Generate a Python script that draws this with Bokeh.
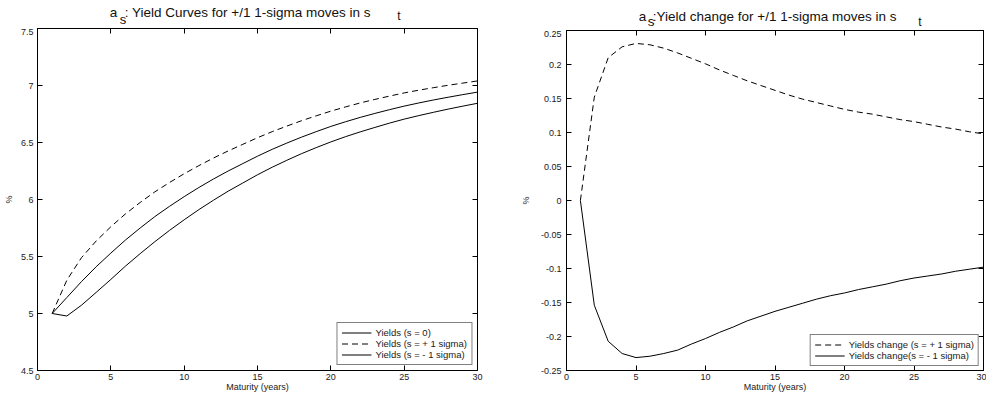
from bokeh.plotting import figure
from bokeh.layouts import row, column
from bokeh.models import FixedTicker, LinearAxis, Label, Legend, LegendItem, Range1d
from bokeh.embed import file_html
from bokeh.resources import INLINE

# ---------------- data ----------------
maturity = list(range(1, 31))

yields_s0 = [5.000, 5.140, 5.280, 5.410, 5.530, 5.645, 5.750, 5.850, 5.940, 6.025,
             6.105, 6.180, 6.250, 6.315, 6.380, 6.440, 6.495, 6.547, 6.595, 6.641,
             6.682, 6.720, 6.755, 6.788, 6.819, 6.847, 6.873, 6.897, 6.920, 6.942]
yields_up = [5.000, 5.292, 5.490, 5.636, 5.761, 5.874, 5.974, 6.067, 6.149, 6.226,
             6.297, 6.364, 6.426, 6.484, 6.542, 6.595, 6.644, 6.691, 6.734, 6.775,
             6.812, 6.847, 6.878, 6.907, 6.935, 6.959, 6.981, 7.002, 7.021, 7.040]
yields_dn = [5.000, 4.978, 5.073, 5.185, 5.299, 5.416, 5.525, 5.630, 5.729, 5.822,
             5.911, 5.994, 6.073, 6.145, 6.217, 6.283, 6.344, 6.402, 6.455, 6.505,
             6.551, 6.593, 6.632, 6.670, 6.705, 6.736, 6.765, 6.793, 6.819, 6.844]

change_up = [0.000, 0.152, 0.210, 0.226, 0.231, 0.229, 0.224, 0.217, 0.209, 0.201,
             0.192, 0.184, 0.176, 0.169, 0.162, 0.155, 0.149, 0.144, 0.139, 0.134,
             0.130, 0.127, 0.123, 0.119, 0.116, 0.112, 0.108, 0.105, 0.101, 0.098]
change_dn = [0.000, -0.154, -0.207, -0.225, -0.231, -0.229, -0.225, -0.220, -0.211, -0.203,
             -0.194, -0.186, -0.177, -0.170, -0.163, -0.157, -0.151, -0.145, -0.140, -0.136,
             -0.131, -0.127, -0.123, -0.118, -0.114, -0.111, -0.108, -0.104, -0.101, -0.098]

x_ticks = [0, 5, 10, 15, 20, 25, 30]
left_y_ticks = [4.5, 5, 5.5, 6, 6.5, 7, 7.5]
left_y_labels = ["4.5", "5", "5.5", "6", "6.5", "7", "7.5"]
right_y_ticks = [-0.25, -0.2, -0.15, -0.1, -0.05, 0, 0.05, 0.1, 0.15, 0.2, 0.25]
right_y_labels = ["-0.25", "-0.2", "-0.15", "-0.1", "-0.05", "0", "0.05", "0.1", "0.15", "0.2", "0.25"]

left_legend = ["Yields (s = 0)", "Yields (s = + 1 sigma)", "Yields (s = - 1 sigma)"]
right_legend = ["Yields change (s = + 1 sigma)", "Yields change(s = - 1 sigma)"]
left_title = ["a", "s", ": Yield Curves for +/1 1-sigma moves in s", "t"]
right_title = ["a", "s", ":Yield change for +/1 1-sigma moves in s", "t"]
x_label = "Maturity (years)"
y_label = "%"

FONT = "Liberation Sans"
TXT = "#1a1a1a"
TOTAL_H = 394


def make_fig(width, height, yr, yticks, ylabels, bl, br, bt, bb, ystand, ylabstand):
    p = figure(width=width, height=height, x_range=Range1d(0, 30), y_range=Range1d(*yr),
               output_backend="svg", toolbar_location=None, title=None,
               min_border_left=bl, min_border_right=br, min_border_top=bt, min_border_bottom=bb)
    p.background_fill_color = "white"
    p.border_fill_color = "white"
    p.outline_line_color = "black"
    p.outline_line_width = 1
    p.xgrid.visible = False
    p.ygrid.visible = False
    yoverrides = {t: l for t, l in zip(yticks, ylabels)}
    for ax in p.xaxis:
        ax.ticker = FixedTicker(ticks=x_ticks)
        ax.axis_label = x_label
        ax.major_label_standoff = 3
        ax.axis_label_standoff = -1
    for ax in p.yaxis:
        ax.ticker = FixedTicker(ticks=yticks)
        ax.major_label_overrides = yoverrides
        ax.axis_label = y_label
        ax.major_label_standoff = ystand
        ax.axis_label_standoff = ylabstand
    for ax in list(p.xaxis) + list(p.yaxis):
        ax.major_tick_in = 5
        ax.major_tick_out = 0
        ax.minor_tick_line_color = None
        ax.axis_line_color = "black"
        ax.major_tick_line_color = "black"
        ax.major_label_text_font = FONT
        ax.major_label_text_font_size = "9px"
        ax.major_label_text_color = TXT
        ax.major_label_text_line_height = 1.0
        ax.axis_label_text_font = FONT
        ax.axis_label_text_font_size = "9px"
        ax.axis_label_text_font_style = "normal"
        ax.axis_label_text_color = TXT
        ax.axis_label_text_line_height = 1.0
    # mirrored ticks on top and right (labels not drawn)
    top = LinearAxis(ticker=FixedTicker(ticks=x_ticks), major_tick_in=5, major_tick_out=0,
                     minor_tick_line_color=None, major_label_text_font_size="1px",
                     major_label_text_color=None, major_label_standoff=0,
                     axis_line_color="black")
    right = LinearAxis(ticker=FixedTicker(ticks=yticks), major_tick_in=5, major_tick_out=0,
                       minor_tick_line_color=None, major_label_text_font_size="1px",
                       major_label_text_color=None, major_label_standoff=0,
                       axis_line_color="black")
    p.add_layout(top, "above")
    p.add_layout(right, "right")
    return p


def make_band(width, height, bl, br, parts):
    # title band: x in the same units as the chart below, y in pixels from the band top
    t = figure(width=width, height=height, x_range=Range1d(0, 30), y_range=Range1d(height, 0),
               output_backend="svg", toolbar_location=None, title=None,
               x_axis_type=None, y_axis_type=None,
               min_border_left=bl, min_border_right=br, min_border_top=0, min_border_bottom=0)
    t.outline_line_color = None
    t.xgrid.visible = False
    t.ygrid.visible = False
    t.background_fill_color = "white"
    t.border_fill_color = "white"
    for txt, x, y, size in parts:
        t.add_layout(Label(x=x, y=y, text=txt, text_font=FONT, text_font_size=size,
                           text_color="#111111", text_baseline="alphabetic", text_align="left"))
    return t


def add_legend(p, labels, renderers, margin):
    leg = Legend(items=[LegendItem(label=l, renderers=[r]) for l, r in zip(labels, renderers)],
                 location="bottom_right", label_text_font=FONT, label_text_font_size="9.5px",
                 label_text_color=TXT, glyph_width=30, glyph_height=11, label_height=11,
                 spacing=0, padding=4, margin=margin, label_standoff=4,
                 border_line_color="black", border_line_width=1, background_fill_alpha=1)
    p.add_layout(leg)


# ---------------- left chart ----------------
BAND1 = 28
W1 = 517
t1 = make_band(W1, BAND1, 33, 40,
               [(left_title[0], 4.93, 12.3, "13.5px"), (left_title[1], 5.61, 19.0, "13px"),
                (left_title[2], 5.95, 12.3, "13.5px"), (left_title[3], 24.53, 15.5, "12px")])
p1 = make_fig(W1, TOTAL_H - BAND1, (4.5, 7.5), left_y_ticks, left_y_labels, 33, 40, 0, 23, 4, 4)
r_mid = p1.line(maturity, yields_s0, line_color="black", line_width=1)
r_up = p1.line(maturity, yields_up, line_color="black", line_width=1, line_dash="6 4")
r_dn = p1.line(maturity, yields_dn, line_color="black", line_width=1)
add_legend(p1, left_legend, [r_mid, r_up, r_dn], 5)

# ---------------- right chart ----------------
BAND2 = 30
W2 = 469
t2 = make_band(W2, BAND2, 45, 3,
               [(right_title[0], 5.20, 16.0, "13.5px"), (right_title[1], 5.84, 21.0, "13.5px"),
                (right_title[2], 6.20, 16.0, "13.5px"), (right_title[3], 25.30, 21.0, "12px")])
p2 = make_fig(W2, TOTAL_H - BAND2, (-0.25, 0.25), right_y_ticks, right_y_labels, 45, 3, 0, 21, 5, 7)
r_cu = p2.line(maturity, change_up, line_color="black", line_width=1, line_dash="6 4")
r_cd = p2.line(maturity, change_dn, line_color="black", line_width=1)
add_legend(p2, right_legend, [r_cu, r_cd], 4)

layout = row(column(t1, p1), column(t2, p2))
open("out.html", "w").write(file_html(layout, INLINE))
